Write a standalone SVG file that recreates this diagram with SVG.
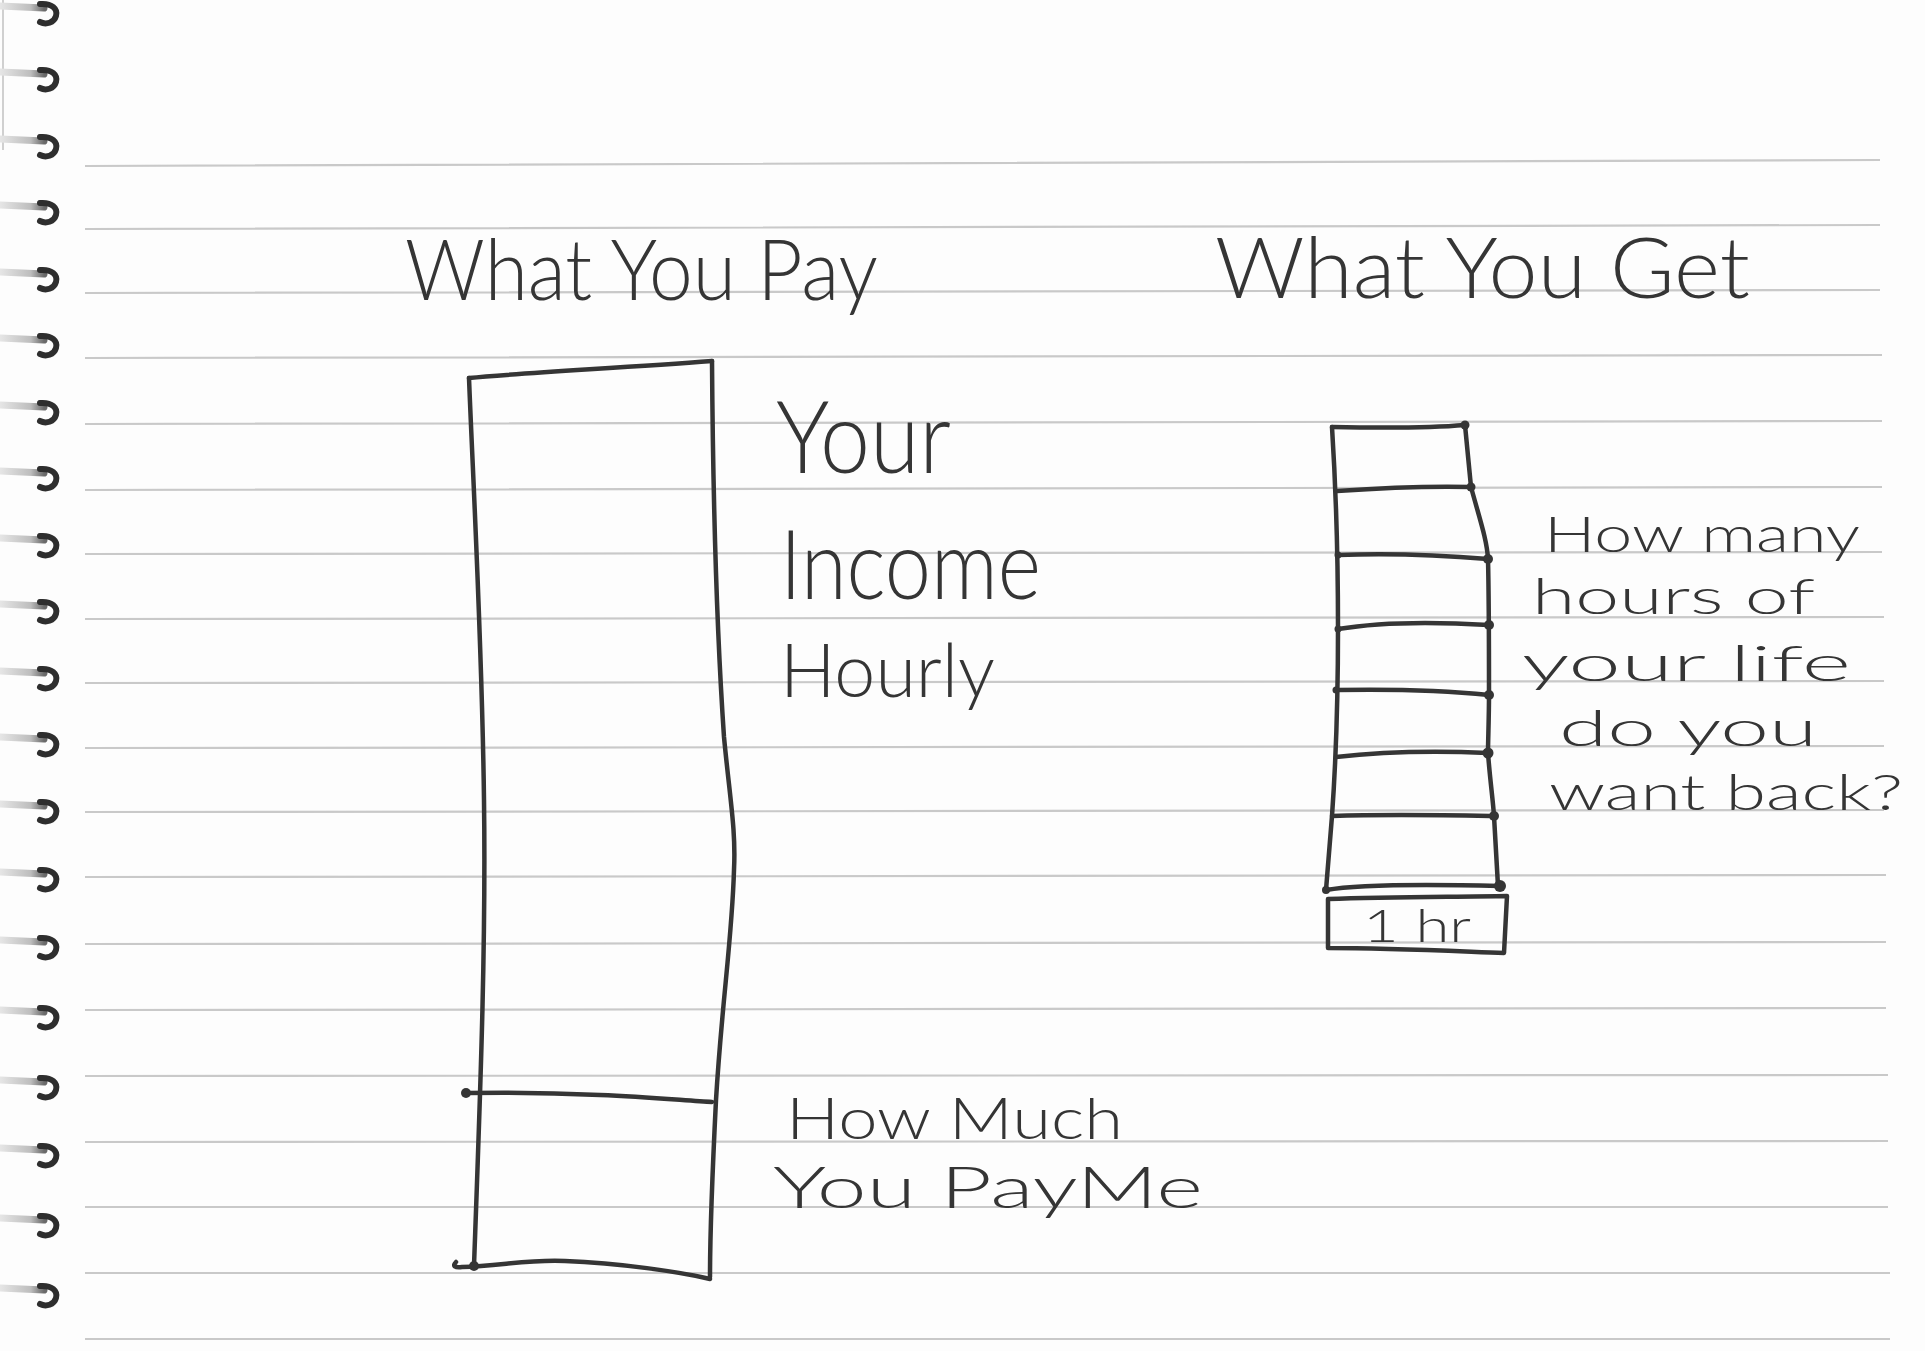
<svg xmlns="http://www.w3.org/2000/svg" width="1925" height="1351" viewBox="0 0 1925 1351">
  <defs>
    <style>
      .ink { fill: none; stroke: #353535; stroke-width: 4.5; stroke-linecap: round; stroke-linejoin: round; }
      .rule { fill: none; stroke: #c9c9c9; stroke-width: 2.2; }
      .hand { font-family: Lato, "Open Sans", "Liberation Sans", sans-serif; font-weight: 300; fill: #353535; }
      .dot { fill: #353535; }
      .hook { fill: none; stroke: #2e2e2e; stroke-width: 6; stroke-linecap: round; }
    </style>
    <linearGradient id="wireFade" x1="0" y1="0" x2="1" y2="0">
      <stop offset="0" stop-color="#e6e6e6"/>
      <stop offset="0.7" stop-color="#bdbdbd"/>
      <stop offset="1" stop-color="#6a6a6a"/>
    </linearGradient>
    <g id="coil">
      <path d="M0,0 L44,2" stroke="url(#wireFade)" stroke-width="7" stroke-linecap="round" fill="none"/>
      <path class="hook" d="M40,-2 C52,-3 58,3 56,10 C54,17 46,19 40,16"/>
    </g>
  </defs>

  <!-- paper -->
  <rect width="1925" height="1351" fill="#fdfdfd"/>

  <!-- ruled lines -->
  <g id="rules" class="rule">
    <path d="M85,166 L1880,160 M85,229 L1880,225 M85,293 L1880,290 M85,358 L1882,355 M85,424 L1882,421 M85,490 L1882,487 M85,554 L1882,552 M85,619 L1884,617 M85,683 L1884,681 M85,748 L1884,746 M85,812 L1884,810 M85,877 L1886,875 M85,944 L1886,942 M85,1010 L1886,1008 M85,1076 L1888,1075 M85,1142 L1888,1141 M85,1207 L1888,1207 M85,1273 L1890,1273 M85,1339 L1890,1339"/>
  </g>

  <!-- spiral binding -->
  <g id="binding">
    <path d="M3,0 L3,150" stroke="#d0d0d0" stroke-width="2" fill="none"/>
    <use href="#coil" x="0" y="6"/>
    <use href="#coil" x="0" y="72"/>
    <use href="#coil" x="0" y="139"/>
    <use href="#coil" x="0" y="205"/>
    <use href="#coil" x="0" y="272"/>
    <use href="#coil" x="0" y="338"/>
    <use href="#coil" x="0" y="405"/>
    <use href="#coil" x="0" y="471"/>
    <use href="#coil" x="0" y="538"/>
    <use href="#coil" x="0" y="604"/>
    <use href="#coil" x="0" y="671"/>
    <use href="#coil" x="0" y="737"/>
    <use href="#coil" x="0" y="804"/>
    <use href="#coil" x="0" y="872"/>
    <use href="#coil" x="0" y="940"/>
    <use href="#coil" x="0" y="1010"/>
    <use href="#coil" x="0" y="1080"/>
    <use href="#coil" x="0" y="1148"/>
    <use href="#coil" x="0" y="1218"/>
    <use href="#coil" x="0" y="1288"/>
  </g>

  <!-- headings -->
  <g id="pay-title">
    <text class="hand" x="405" y="300" font-size="84" textLength="473" lengthAdjust="spacingAndGlyphs">What You Pay</text>
  </g>
  <g id="get-title">
    <text class="hand" x="1215" y="298" font-size="84" textLength="535" lengthAdjust="spacingAndGlyphs">What You Get</text>
  </g>

  <!-- tall bar: income vs. price -->
  <g id="pay-bar">
    <path class="ink" d="M469,378 C520,373 620,368 712,361"/>
    <path class="ink" d="M469,378 C473,480 482,640 484,800 C486,950 480,1100 474,1266"/>
    <path class="ink" d="M712,361 C713,500 716,620 724,737 C730,800 736,830 734,870 C732,940 722,1000 716,1100 C712,1180 710,1240 710,1277"/>
    <path class="ink" d="M466,1093 C520,1092 560,1093 600,1095 C650,1097 690,1101 712,1102"/>
    <path class="ink" d="M456,1262 C452,1266 455,1268 462,1267 C500,1266 530,1259 565,1261 C620,1263 680,1272 710,1279"/>
    <circle class="dot" cx="466" cy="1093" r="5"/>
    <circle class="dot" cx="474" cy="1266" r="5"/>
  </g>

  <g id="income-label">
    <text class="hand" x="776" y="473" font-size="100" textLength="175" lengthAdjust="spacingAndGlyphs">Your</text>
    <text class="hand" x="780" y="599" font-size="96" textLength="261" lengthAdjust="spacingAndGlyphs">Income</text>
    <text class="hand" x="780" y="697" font-size="74" textLength="215" lengthAdjust="spacingAndGlyphs">Hourly</text>
  </g>

  <g id="payme-label">
    <text class="hand" x="786" y="1139" font-size="57" textLength="337" lengthAdjust="spacingAndGlyphs">How Much</text>
    <text class="hand" x="773" y="1208" font-size="57" textLength="430" lengthAdjust="spacingAndGlyphs">You PayMe</text>
  </g>

  <!-- stack of hour blocks -->
  <g id="hours-stack">
    <path class="ink" d="M1332,427 C1336,490 1338,560 1338,628 C1338,690 1336,760 1332,816 L1326,890"/>
    <path class="ink" d="M1465,425 L1471,487 C1480,520 1487,540 1488,559 C1489,600 1489,660 1489,694 C1489,720 1488,740 1488,753 C1490,780 1493,800 1494,816 L1498,886"/>
    <path class="ink" d="M1332,427 C1380,428 1430,428 1465,425"/>
    <path class="ink" d="M1337,491 C1380,488 1430,486 1471,487"/>
    <path class="ink" d="M1338,555 C1390,553 1440,555 1488,559"/>
    <path class="ink" d="M1338,629 C1380,622 1440,622 1489,625"/>
    <path class="ink" d="M1336,690 C1390,689 1440,690 1489,695"/>
    <path class="ink" d="M1336,757 C1380,752 1440,751 1488,753"/>
    <path class="ink" d="M1332,816 C1390,814 1440,815 1494,816"/>
    <path class="ink" d="M1326,890 C1360,884 1420,884 1500,886"/>
    <path class="ink" d="M1328,899 C1390,897 1450,897 1507,896 L1504,953 C1450,951 1390,948 1328,948 Z"/>
    <circle class="dot" cx="1465" cy="425" r="4.5"/>
    <circle class="dot" cx="1471" cy="487" r="4.5"/>
    <circle class="dot" cx="1488" cy="559" r="5"/>
    <circle class="dot" cx="1489" cy="625" r="5"/>
    <circle class="dot" cx="1489" cy="695" r="5"/>
    <circle class="dot" cx="1488" cy="753" r="5.5"/>
    <circle class="dot" cx="1494" cy="816" r="5"/>
    <circle class="dot" cx="1500" cy="886" r="6"/>
    <circle class="dot" cx="1326" cy="890" r="4"/>
    <circle class="dot" cx="1336" cy="690" r="3.5"/>
    <circle class="dot" cx="1338" cy="629" r="3.5"/>
    <circle class="dot" cx="1338" cy="555" r="3.5"/>
    <text class="hand" x="1363" y="942" font-size="46" textLength="108" lengthAdjust="spacingAndGlyphs">1 hr</text>
  </g>

  <g id="hours-label">
    <text class="hand" x="1544" y="552" font-size="50" textLength="316" lengthAdjust="spacingAndGlyphs">How many</text>
    <text class="hand" x="1532" y="614" font-size="50" textLength="283" lengthAdjust="spacingAndGlyphs">hours of</text>
    <text class="hand" x="1522" y="681" font-size="50" textLength="329" lengthAdjust="spacingAndGlyphs">your life</text>
    <text class="hand" x="1559" y="746" font-size="50" textLength="258" lengthAdjust="spacingAndGlyphs">do you</text>
    <text class="hand" x="1549" y="810" font-size="50" textLength="354" lengthAdjust="spacingAndGlyphs">want back?</text>
  </g>
</svg>
